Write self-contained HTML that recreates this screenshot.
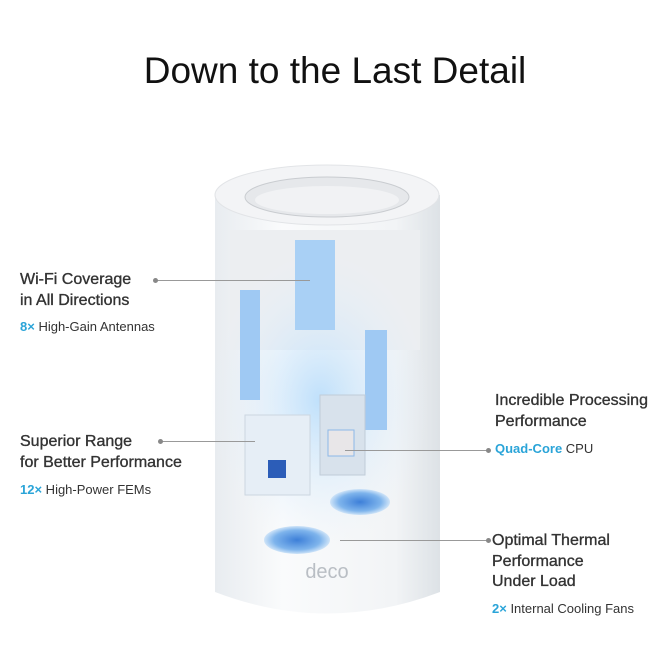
<!DOCTYPE html><html><head><style>
body{margin:0;width:670px;height:670px;background:#fff;position:relative;overflow:hidden;font-family:"Liberation Sans",sans-serif;color:#222}
.t{position:absolute;white-space:nowrap}
.h{font-size:16px;color:#333;line-height:20.5px;-webkit-text-stroke:0.35px #333}
.s{font-size:13px;color:#333}
.b{color:#2aa4d8;font-weight:bold}
.l{position:absolute;height:1px;background:#999}
.d{position:absolute;width:5px;height:5px;border-radius:50%;background:#888}
</style></head><body>
<div class="t" style="left:0;width:670px;text-align:center;top:50px;font-size:37px;color:#111">Down to the Last Detail</div>
<svg width="670" height="670" style="position:absolute;left:0;top:0">
<defs>
<linearGradient id="g" x1="0" x2="1"><stop offset="0" stop-color="#e8ecf0"/><stop offset=".3" stop-color="#fafbfc"/><stop offset=".8" stop-color="#f2f4f6"/><stop offset="1" stop-color="#dde2e6"/></linearGradient>
<radialGradient id="bl" cx=".5" cy=".5" r=".5"><stop offset="0" stop-color="#bfe0fb"/><stop offset="1" stop-color="#e8f2fb" stop-opacity="0"/></radialGradient>
<radialGradient id="fan"><stop offset="0" stop-color="#3d7fd8"/><stop offset=".7" stop-color="#7eb4ec"/><stop offset="1" stop-color="#cfe4f8"/></radialGradient>
</defs>
<path d="M215 195 L215 592 Q327 635 440 592 L440 195 Z" fill="url(#g)"/>
<rect x="230" y="230" width="190" height="120" fill="#eceef1"/>
<ellipse cx="327" cy="195" rx="112" ry="30" fill="#f3f4f6" stroke="#e2e4e7"/>
<ellipse cx="327" cy="197" rx="82" ry="20" fill="#e6e8eb" stroke="#c9ccd0"/>
<ellipse cx="327" cy="200" rx="72" ry="14" fill="#f1f2f4"/>
<ellipse cx="320" cy="400" rx="110" ry="150" fill="url(#bl)"/>
<rect x="295" y="240" width="40" height="90" fill="#a9d0f5"/>
<rect x="240" y="290" width="20" height="110" fill="#9fc9f3"/>
<rect x="365" y="330" width="22" height="100" fill="#9fc9f3"/>
<rect x="245" y="415" width="65" height="80" fill="#e6eef6" stroke="#ccd6e0"/>
<rect x="320" y="395" width="45" height="80" fill="#d8e2ec" stroke="#c0ccd8"/>
<rect x="328" y="430" width="26" height="26" fill="#e8e6e8" stroke="#8db8e8"/>
<rect x="268" y="460" width="18" height="18" fill="#2c5db8"/>
<ellipse cx="360" cy="502" rx="30" ry="13" fill="url(#fan)"/>
<ellipse cx="297" cy="540" rx="33" ry="14" fill="url(#fan)"/>
<text x="327" y="578" text-anchor="middle" font-size="20" fill="#b9bec4" font-family="Liberation Sans">deco</text>
</svg>
<div class="l" style="left:156px;top:280px;width:154px"></div><div class="d" style="left:153px;top:278px"></div>
<div class="l" style="left:160px;top:441px;width:95px"></div><div class="d" style="left:158px;top:439px"></div>
<div class="l" style="left:345px;top:450px;width:145px"></div><div class="d" style="left:486px;top:448px"></div>
<div class="l" style="left:340px;top:540px;width:150px"></div><div class="d" style="left:486px;top:538px"></div>
<div class="t h" style="left:20px;top:270px">Wi-Fi Coverage<br>in All Directions</div>
<div class="t s" style="left:20px;top:319px"><span class="b">8×</span> High-Gain Antennas</div>
<div class="t h" style="left:20px;top:432px">Superior Range<br>for Better Performance</div>
<div class="t s" style="left:20px;top:482px"><span class="b">12×</span> High-Power FEMs</div>
<div class="t h" style="left:495px;top:391px">Incredible Processing<br>Performance</div>
<div class="t s" style="left:495px;top:441px"><span class="b">Quad-Core</span> CPU</div>
<div class="t h" style="left:492px;top:531px">Optimal Thermal<br>Performance<br>Under Load</div>
<div class="t s" style="left:492px;top:601px"><span class="b">2×</span> Internal Cooling Fans</div>
</body></html>
